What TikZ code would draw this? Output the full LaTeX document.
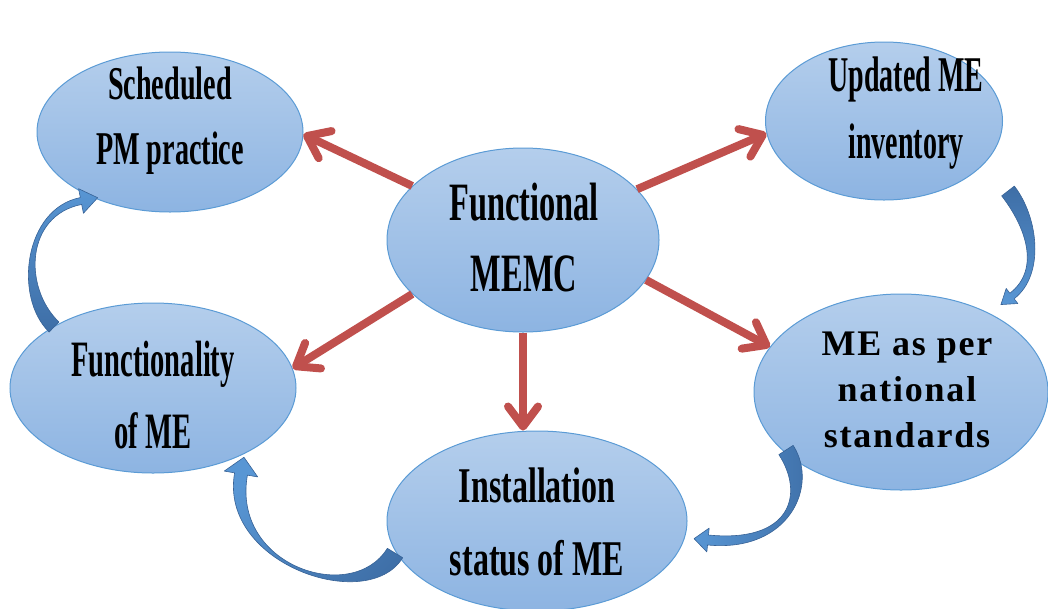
\documentclass[tikz,border=0pt]{standalone}
\usepackage{fontspec}
\setmainfont{Liberation Serif}
\newfontfamily\fsa[FakeStretch=0.56]{Liberation Serif}
\newfontfamily\fsb[FakeStretch=0.60]{Liberation Serif}
\newfontfamily\fsc[FakeStretch=0.64]{Liberation Serif}
\newfontfamily\fwide[LetterSpace=5]{Liberation Serif}
\usetikzlibrary{shapes.geometric,arrows.meta,calc}
\definecolor{ellfillA}{RGB}{180,206,236}
\definecolor{ellfillB}{RGB}{141,180,226}
\definecolor{elledge}{RGB}{91,155,213}
\definecolor{redarr}{RGB}{192,80,77}
\definecolor{bluelight}{RGB}{88,150,212}
\definecolor{bluedark}{RGB}{62,110,166}
\definecolor{blueedge}{RGB}{55,98,150}
\tikzset{
  bubble/.style={ellipse, draw=elledge, line width=1pt, top color=ellfillA, bottom color=ellfillB, inner sep=0pt},
  lbl/.style={align=center, inner sep=0pt, text=black},
  redarrow/.style={draw=redarr, line width=8pt, -{Straight Barb[length=20pt,width=30pt,round]}},
  bluearr/.style={draw=blueedge, line width=0.6pt, line join=round, top color=bluelight, bottom color=bluedark}
}
% #1 start, #2 ctrl1, #3 ctrl2, #4 head base, #5 tail half width, #6 end half width, #7 head length, #8 head half width, #9 shading angle
\newcommand{\cvarrow}[9]{%
  \path (#1) coordinate (S) (#2) coordinate (C1) (#3) coordinate (C2) (#4) coordinate (E);
  \path ($(S)!#5!90:(C1)$) coordinate (TL) ($(S)!#5!-90:(C1)$) coordinate (TR)
        ($(E)!#6!-90:(C2)$) coordinate (HL) ($(E)!#6!90:(C2)$) coordinate (HR)
        ($(E)!#8!-90:(C2)$) coordinate (BL) ($(E)!#8!90:(C2)$) coordinate (BR)
        ($(E)!-#7!(C2)$) coordinate (TP);
  \path[bluearr, shading angle=#9] (TL) .. controls ($(C1)+(TL)-(S)$) and ($(C2)+(HL)-(E)$) .. (HL)
     -- (BL) -- (TP) -- (BR) -- (HR)
     .. controls ($(C2)+(HR)-(E)$) and ($(C1)+(TR)-(S)$) .. (TR) -- cycle;
}
\begin{document}
\begin{tikzpicture}[x=1pt,y=-1pt]
\useasboundingbox (0,0) rectangle (1048,608);
\clip (0,0) rectangle (1048,608);
% ellipses
\node[bubble, minimum width=266pt, minimum height=160pt] (sched) at (170,132) {};
\node[bubble, minimum width=237pt, minimum height=158pt] (upd) at (884,121) {};
\node[bubble, minimum width=272pt, minimum height=184pt] (memc) at (523,240) {};
\node[bubble, minimum width=286pt, minimum height=170pt] (func) at (153,388) {};
\node[bubble, minimum width=294pt, minimum height=196pt] (meas) at (901,392) {};
\node[bubble, minimum width=300pt, minimum height=180pt] (inst) at (537,521) {};
% red arrows
\draw[redarrow] (memc.154) -- (sched.-1);
\draw[redarrow] (memc.24) -- (upd.186);
\draw[redarrow] (memc.206) -- (func.8);
\draw[redarrow] (memc.south) -- (memc.south |- inst.north);
\draw[redarrow] (memc.342) -- (meas.161);
% curved blue arrows
\cvarrow{54,327}{18,292}{25,212}{81,201}{7pt}{3.5pt}{17pt}{12.5pt}{0}
\cvarrow{1008,191}{1032,222}{1043,272}{1012,296}{8pt}{3.5pt}{14pt}{9.5pt}{180}
\cvarrow{786,450}{812,490}{790,548}{708,540}{8.5pt}{5pt}{14pt}{12pt}{90}
\cvarrow{395,553}{360,610}{225,565}{241,474}{9pt}{6.5pt}{17pt}{17pt}{45}
% texts
\node[lbl, font={\fsb\bfseries\fontsize{47}{65}\selectfont}] (schedtxt) at (170,121) {Scheduled\\PM practice};
\node[lbl, font={\fsa\bfseries\fontsize{50}{67}\selectfont}] (updtxt) at (906,113) {Updated ME\\inventory};
\node[lbl, font={\fsb\bfseries\fontsize{54}{71}\selectfont}] (memctxt) at (524,238) {Functional\\MEMC};
\node[lbl, font={\fsa\bfseries\fontsize{51}{72}\selectfont}] (functxt) at (153,395) {Functionality\\of ME};
\node[lbl, font={\fsc\bfseries\fontsize{50}{73}\selectfont}] (insttxt) at (537,522) {Installation\\status of ME};
\node[lbl, font={\fwide\bfseries\fontsize{36}{46}\selectfont}] (meastxt) at (907,390) {ME as per\\national\\standards};
\end{tikzpicture}
\end{document}
